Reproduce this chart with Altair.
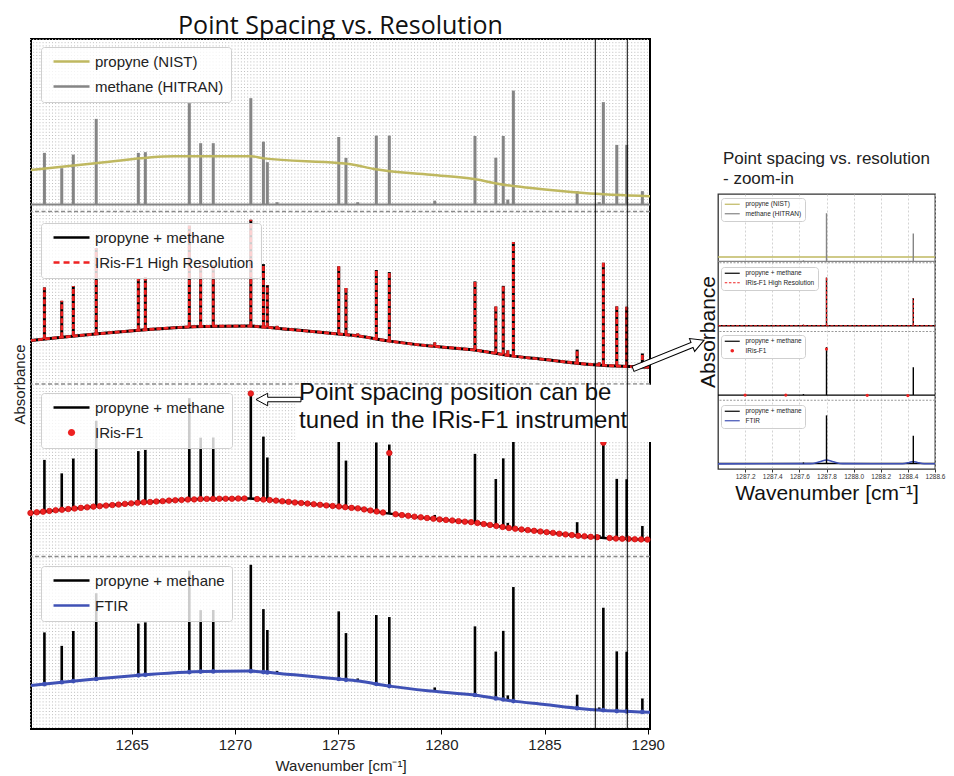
import altair as alt
import pandas as pd

# ---------------- main chart data (panel-local absorbance, 0..1 per band) ----------------
X_DOMAIN = [1260.12, 1290.11]
X_TICKS = [1265, 1270, 1275, 1280, 1285, 1290]

line_wn = [1260.77, 1261.61, 1262.17, 1263.28, 1265.32, 1265.66, 1267.79, 1268.34, 1268.95,
           1270.77, 1271.38, 1271.57, 1272.04, 1275.03, 1275.38, 1275.95, 1276.85, 1277.48,
           1279.68, 1281.63, 1282.64, 1283.00, 1283.22, 1283.49, 1286.58, 1287.65, 1287.85,
           1288.50, 1288.98, 1289.74]
line_h = [0.300, 0.211, 0.290, 0.497, 0.300, 0.304, 0.588, 0.356, 0.356,
          0.617, 0.365, 0.246, 0.014, 0.392, 0.271, 0.014, 0.400, 0.400,
          0.023, 0.398, 0.272, 0.398, 0.029, 0.661, 0.078, 0.014, 0.594,
          0.346, 0.346, 0.078]
line_base = [0.260, 0.271, 0.278, 0.290, 0.311, 0.314, 0.330, 0.333, 0.334,
             0.335, 0.330, 0.328, 0.323, 0.290, 0.285, 0.279, 0.261, 0.249,
             0.218, 0.197, 0.177, 0.171, 0.166, 0.162, 0.121, 0.111, 0.109,
             0.104, 0.102, 0.099]
METHANE_BASE = 0.04

propyne_wn = [1260.12, 1263.35, 1267.05, 1270.78, 1271.41, 1275.00, 1275.62, 1276.74,
              1279.50, 1281.58, 1283.04, 1284.35, 1286.91, 1290.11]
propyne_y = [0.241, 0.281, 0.320, 0.320, 0.308, 0.281, 0.274, 0.246,
             0.213, 0.188, 0.155, 0.136, 0.107, 0.088]

mix_wn = [1260.12, 1261.5, 1263.35, 1265.5, 1267.05, 1268.5, 1270.7, 1271.4, 1272.5, 1275.0,
          1276.0, 1277.4, 1279.5, 1281.6, 1283.4, 1285.0, 1286.8, 1288.5, 1290.11]
mix_y = [0.252, 0.270, 0.291, 0.313, 0.326, 0.334, 0.336, 0.330, 0.318, 0.290,
         0.278, 0.250, 0.220, 0.197, 0.163, 0.142, 0.118, 0.104, 0.097]

IRIS_START = 1260.095
IRIS_STEP = 0.305
iris_y = [0.252, 0.256, 0.260, 0.264, 0.268, 0.271, 0.275, 0.278, 0.282, 0.285,
          0.289, 0.292, 0.295, 0.298, 0.301, 0.305, 0.308, 0.311, 0.314, 0.316,
          0.319, 0.321, 0.324, 0.326, 0.328, 0.330, 0.331, 0.333, 0.334, 0.334,
          0.335, 0.335, 0.335, 0.336, 0.336, 0.945, 0.333, 0.330, 0.327, 0.324,
          0.320, 0.317, 0.313, 0.310, 0.307, 0.303, 0.300, 0.296, 0.293, 0.290,
          0.286, 0.282, 0.279, 0.273, 0.267, 0.261, 0.255, 0.600, 0.245, 0.240,
          0.236, 0.231, 0.227, 0.223, 0.219, 0.215, 0.212, 0.209, 0.205, 0.202,
          0.199, 0.194, 0.188, 0.183, 0.177, 0.171, 0.165, 0.161, 0.157, 0.153,
          0.149, 0.145, 0.141, 0.137, 0.132, 0.128, 0.124, 0.120, 0.117, 0.114,
          0.112, 0.660, 0.107, 0.104, 0.103, 0.102, 0.100, 0.099, 0.098]

zoom_marks_wn = [1287.46, 1289.01]

# annotation (data coordinates of the main axes)
ANN_TEXT = "Point spacing position can be\ntuned in the IRis-F1 instrument"
ANN_TEXT_POS = [1273.11, 1.945]
ANN_BOX = [1272.92, 1290.74, 1.664, 1.995]
ARROW1_POS = [1272.11, 1.910]
ARROW2_POS = [1291.01, 2.171]

# ---------------- inset data ----------------
INSET_DOMAIN = [1287.0, 1288.6]
INSET_TICKS = [1287.2, 1287.4, 1287.6, 1287.8, 1288.0, 1288.2, 1288.4, 1288.6]
inset_line_wn = [1287.63, 1287.80, 1288.44]
inset_line_h = [0.015, 0.700, 0.405]
inset_base = [0.02, 0.084, 0.075, 0.080]   # panels top -> bottom
INSET_PROPYNE = 0.085
inset_iris_wn = [1287.2, 1287.5, 1287.8, 1288.1, 1288.4]
inset_iris_y = [0.075, 0.075, 0.744, 0.072, 0.068]
inset_ftir_wn = [1287.0, 1287.68, 1287.75, 1287.80, 1287.85, 1287.92, 1288.36, 1288.41,
                 1288.44, 1288.47, 1288.52, 1288.6]
inset_ftir_y = [0.075, 0.078, 0.105, 0.130, 0.105, 0.078, 0.077, 0.095,
                0.110, 0.095, 0.077, 0.076]

# ---------------- styles ----------------
RED = "#ee2222"
BLACK = "#000000"
GRAY = "#858585"
OLIVE = "#bfb860"
BLUE = "#3f51b5"
FONT = "Liberation Sans"


def solid_path(t, s=0.0):
    return f"M {-1 + s} {-t} L {5 + s} {-t} L {5 + s} {t} L {-1 + s} {t} Z"


def dash_path(t, s=0.0):
    segs = [(-1, 0), (0.67, 1.67), (2.33, 3.33), (4, 5)]
    return " ".join(f"M {a + s} {-t} L {b + s} {-t} L {b + s} {t} L {a + s} {t} Z" for a, b in segs)


def dot_path(r, s=0.0):
    c = 2 + s
    return f"M {c - r} 0 A {r} {r} 0 1 0 {c + r} 0 A {r} {r} 0 1 0 {c - r} 0 Z"


# ---------------- main chart ----------------
xs = alt.Scale(domain=X_DOMAIN, nice=False, zero=False)
ys = alt.Scale(domain=[0, 4], nice=False, zero=False)
x_axis = alt.Axis(values=X_TICKS, format="d", title="Wavenumber [cm⁻¹]",
                  labelFont=FONT, labelFontSize=15, labelColor="#222",
                  titleFont=FONT, titleFontSize=15, titleFontWeight="normal", titleColor="#222",
                  tickSize=5, tickColor="black", domain=False, grid=False,
                  labelPadding=3, titlePadding=6)
y_axis = alt.Axis(title="Absorbance", labels=False, ticks=False, domain=False, grid=False,
                  titleFont=FONT, titleFontSize=15, titleFontWeight="normal", titleColor="#222",
                  titlePadding=4)


def MX():
    return alt.X("wn:Q", scale=xs, axis=x_axis)


def MY():
    return alt.Y("y:Q", scale=ys, axis=y_axis)


def sticks_df(offset, bases):
    return pd.DataFrame({"wn": line_wn,
                         "y": [offset + b for b in bases],
                         "y2": [offset + b + h for b, h in zip(bases, line_h)]})


def curve_df(offset, wn, vals):
    return pd.DataFrame({"wn": wn, "y": [offset + v for v in vals]})


grid_wn = []
g = IRIS_START
while g <= X_DOMAIN[1]:
    grid_wn.append(round(g, 4))
    g += IRIS_STEP / 2

layers = []
layers.append(alt.Chart(pd.DataFrame({"wn": grid_wn})).mark_rule(
    color="#bdbdbd", strokeWidth=1, strokeDash=[1, 2.2]).encode(x=MX()))
layers.append(alt.Chart(pd.DataFrame({"y": [1, 2, 3]})).mark_rule(
    color="#8a8a8a", strokeWidth=1.6, strokeDash=[4, 2.5]).encode(y=MY()))

# panel 1 : reference spectra
p1_base = pd.DataFrame({"wn": X_DOMAIN, "y": [3 + METHANE_BASE] * 2})
layers.append(alt.Chart(p1_base).mark_line(color=GRAY, strokeWidth=2).encode(x=MX(), y=MY()))
layers.append(alt.Chart(sticks_df(3, [METHANE_BASE] * len(line_wn))).mark_rule(
    color=GRAY, strokeWidth=3).encode(x=MX(), y=MY(), y2="y2:Q"))
layers.append(alt.Chart(curve_df(3, propyne_wn, propyne_y)).mark_line(
    color=OLIVE, strokeWidth=2.5, interpolate="monotone").encode(x=MX(), y=MY()))

# panel 2 : high resolution
layers.append(alt.Chart(sticks_df(2, line_base)).mark_rule(color=BLACK, strokeWidth=3).encode(
    x=MX(), y=MY(), y2="y2:Q"))
layers.append(alt.Chart(curve_df(2, mix_wn, mix_y)).mark_line(
    color=BLACK, strokeWidth=3, interpolate="monotone").encode(x=MX(), y=MY()))
layers.append(alt.Chart(sticks_df(2, line_base)).mark_rule(
    color=RED, strokeWidth=2.7, strokeDash=[5, 2]).encode(x=MX(), y=MY(), y2="y2:Q"))
layers.append(alt.Chart(curve_df(2, mix_wn, mix_y)).mark_line(
    color=RED, strokeWidth=2.7, strokeDash=[5, 2], interpolate="monotone").encode(x=MX(), y=MY()))

# panel 3 : IRis-F1 point spacing
layers.append(alt.Chart(sticks_df(1, line_base)).mark_rule(color=BLACK, strokeWidth=2.6).encode(
    x=MX(), y=MY(), y2="y2:Q"))
layers.append(alt.Chart(curve_df(1, mix_wn, mix_y)).mark_line(
    color=BLACK, strokeWidth=2.5, interpolate="monotone").encode(x=MX(), y=MY()))
iris_df = pd.DataFrame({"wn": [round(IRIS_START + IRIS_STEP * k, 4) for k in range(len(iris_y))],
                        "y": [1 + v for v in iris_y]})
layers.append(alt.Chart(iris_df).mark_point(
    filled=True, size=30, color=RED, opacity=1, stroke="#d01010", strokeWidth=0.8).encode(
    x=MX(), y=MY()))

# panel 4 : FTIR
layers.append(alt.Chart(sticks_df(0, line_base)).mark_rule(color=BLACK, strokeWidth=2.6).encode(
    x=MX(), y=MY(), y2="y2:Q"))
layers.append(alt.Chart(curve_df(0, mix_wn, mix_y)).mark_line(
    color=BLUE, strokeWidth=3, interpolate="monotone").encode(x=MX(), y=MY()))
bump = [(w, b) for w, b, h in zip(line_wn, line_base, line_h) if h >= 0.05]
layers.append(alt.Chart(pd.DataFrame({"wn": [w for w, _ in bump], "y": [b for _, b in bump]}))
              .mark_circle(size=22, color=BLUE, opacity=1).encode(x=MX(), y=MY()))

# annotation
box_df = pd.DataFrame({"wn": [ANN_BOX[0]], "wn2": [ANN_BOX[1]], "y": [ANN_BOX[2]], "y2": [ANN_BOX[3]]})
layers.append(alt.Chart(box_df).mark_rect(color="white", opacity=1).encode(
    x=MX(), x2="wn2:Q", y=MY(), y2="y2:Q"))
layers.append(alt.Chart(pd.DataFrame({"wn": zoom_marks_wn})).mark_rule(
    color="black", strokeWidth=1).encode(x=MX()))
layers.append(alt.Chart(pd.DataFrame({"wn": [ANN_TEXT_POS[0]], "y": [ANN_TEXT_POS[1]], "t": [ANN_TEXT]}))
              .mark_text(align="left", baseline="middle", lineBreak="\n", font=FONT, fontSize=24,
                         lineHeight=28, color="#111").encode(x=MX(), y=MY(), text="t:N"))
ARROW1 = "M 1 0 L 0.48 -0.28 L 0.48 -0.1 L -1 -0.1 L -1 0.1 L 0.48 0.1 L 0.48 0.28 Z"
ARROW2 = "M 1 0 L 0.66 -0.18 L 0.66 -0.07 L -1 -0.07 L -1 0.07 L 0.66 0.07 L 0.66 0.18 Z"
layers.append(alt.Chart(pd.DataFrame({"wn": [ARROW1_POS[0]], "y": [ARROW1_POS[1]]})).mark_point(
    shape=ARROW1, size=2025, angle=180, filled=True, fill="white", stroke="black",
    strokeWidth=1, opacity=1).encode(x=MX(), y=MY()))
layers.append(alt.Chart(pd.DataFrame({"wn": [ARROW2_POS[0]], "y": [ARROW2_POS[1]]})).mark_point(
    shape=ARROW2, size=5883, angle=338, filled=True, fill="white", stroke="black",
    strokeWidth=1, opacity=1).encode(x=MX(), y=MY()))


def legend_layer(names, colors, shapes, lx, ly, st, xf, yf, off):
    leg = alt.Legend(title=None, orient="none", legendX=lx, legendY=ly,
                     fillColor="rgba(255,255,255,0.8)", strokeColor="#cfcfcf", cornerRadius=3,
                     padding=st["padding"], rowPadding=st["rowPadding"], labelOffset=st["labelOffset"],
                     labelFont=FONT, labelFontSize=st["fontSize"], labelColor="#222",
                     symbolSize=st["symbolSize"], symbolStrokeWidth=0, symbolOpacity=1, labelLimit=400)
    df = pd.DataFrame({"s": names, "wn": [off[0]] * len(names), "y": [off[1]] * len(names)})
    return alt.Chart(df).mark_point(filled=True, opacity=1, clip=True).encode(
        x=xf(), y=yf(),
        color=alt.Color("s:N", scale=alt.Scale(domain=names, range=colors), legend=leg),
        shape=alt.Shape("s:N", scale=alt.Scale(domain=names, range=shapes), legend=leg))


MST = dict(padding=7, rowPadding=9, labelOffset=32, fontSize=15, symbolSize=144)
t = 0.21
sh = 0.67
MOFF = (1200, -10)
layers.append(legend_layer(["propyne (NIST)", "methane (HITRAN)"], [OLIVE, GRAY],
                           [solid_path(t, sh), solid_path(t, sh)], 10, 8, MST, MX, MY, MOFF))
layers.append(legend_layer(["propyne + methane", "IRis-F1 High Resolution"], [BLACK, RED],
                           [solid_path(t, sh), dash_path(t, sh)], 10, 184, MST, MX, MY, MOFF))
layers.append(legend_layer(["propyne + methane ", "IRis-F1"], [BLACK, RED],
                           [solid_path(t, sh), dot_path(0.6, sh)], 10, 354, MST, MX, MY, MOFF))
layers.append(legend_layer(["propyne + methane  ", "FTIR"], [BLACK, BLUE],
                           [solid_path(t, sh), solid_path(t, sh)], 10, 527, MST, MX, MY, MOFF))

main = alt.layer(*layers).resolve_scale(color="independent", shape="independent").properties(
    width=619, height=690,
    title=alt.TitleParams("Point Spacing vs. Resolution", font="Open Sans", fontSize=25,
                          fontWeight="normal", color="#111", anchor="middle", frame="group", offset=0),
    view=alt.ViewBackground(stroke="black", strokeWidth=2))

# ---------------- inset chart ----------------
ixs = alt.Scale(domain=INSET_DOMAIN, nice=False, zero=False)
iys = alt.Scale(domain=[0, 4], nice=False, zero=False)
ix_axis = alt.Axis(values=INSET_TICKS, format=".1f", labelFont=FONT, labelFontSize=6.5, labelColor="#333",
                   labelOverlap=False, labelFlush=False, tickSize=3, tickColor="#333", grid=True,
                   gridColor="#c8c8c8", gridDash=[2, 2], gridWidth=0.8, domain=False,
                   title="Wavenumber [cm⁻¹]", titleFont=FONT, titleFontSize=21,
                   titleFontWeight="normal", titleColor="#111", titlePadding=3, labelPadding=1)
iy_axis = alt.Axis(title="Absorbance", labels=False, ticks=False, domain=False, grid=False,
                   titleFont=FONT, titleFontSize=21, titleFontWeight="normal", titleColor="#111",
                   titlePadding=0)


def IX():
    return alt.X("wn:Q", scale=ixs, axis=ix_axis)


def IY():
    return alt.Y("y:Q", scale=iys, axis=iy_axis)


def isticks(offset, base):
    return pd.DataFrame({"wn": inset_line_wn, "y": [offset + base] * len(inset_line_wn),
                         "y2": [offset + base + h for h in inset_line_h]})


def iflat(offset, v):
    return pd.DataFrame({"wn": INSET_DOMAIN, "y": [offset + v] * 2})


il = []
il.append(alt.Chart(pd.DataFrame({"y": [1, 2, 3]})).mark_rule(
    color="#999999", strokeWidth=1, strokeDash=[2, 1.5]).encode(y=IY()))
# panel 1
il.append(alt.Chart(iflat(3, inset_base[0])).mark_line(color=GRAY, strokeWidth=1.2).encode(x=IX(), y=IY()))
il.append(alt.Chart(iflat(3, INSET_PROPYNE)).mark_line(color=OLIVE, strokeWidth=1.5).encode(x=IX(), y=IY()))
il.append(alt.Chart(isticks(3, inset_base[0])).mark_rule(color=GRAY, strokeWidth=1.4).encode(
    x=IX(), y=IY(), y2="y2:Q"))
# panel 2
il.append(alt.Chart(iflat(2, inset_base[1])).mark_line(color=BLACK, strokeWidth=1.3).encode(x=IX(), y=IY()))
il.append(alt.Chart(isticks(2, inset_base[1])).mark_rule(color=BLACK, strokeWidth=1.4).encode(
    x=IX(), y=IY(), y2="y2:Q"))
il.append(alt.Chart(iflat(2, inset_base[1])).mark_line(color=RED, strokeWidth=1.2, strokeDash=[3, 1.5]).encode(
    x=IX(), y=IY()))
il.append(alt.Chart(isticks(2, inset_base[1])).mark_rule(color=RED, strokeWidth=1.2, strokeDash=[3, 1.5]).encode(
    x=IX(), y=IY(), y2="y2:Q"))
# panel 3
il.append(alt.Chart(iflat(1, inset_base[2])).mark_line(color=BLACK, strokeWidth=1.3).encode(x=IX(), y=IY()))
il.append(alt.Chart(isticks(1, inset_base[2])).mark_rule(color=BLACK, strokeWidth=1.4).encode(
    x=IX(), y=IY(), y2="y2:Q"))
il.append(alt.Chart(pd.DataFrame({"wn": inset_iris_wn, "y": [1 + v for v in inset_iris_y]})).mark_circle(
    size=10, color=RED, opacity=1).encode(x=IX(), y=IY()))
# panel 4
il.append(alt.Chart(iflat(0, inset_base[3])).mark_line(color=BLACK, strokeWidth=1.3).encode(x=IX(), y=IY()))
il.append(alt.Chart(pd.DataFrame({"wn": inset_ftir_wn, "y": inset_ftir_y})).mark_line(
    color=BLUE, strokeWidth=1.6, interpolate="monotone").encode(x=IX(), y=IY()))
il.append(alt.Chart(isticks(0, inset_base[3])).mark_rule(color=BLACK, strokeWidth=1.4).encode(
    x=IX(), y=IY(), y2="y2:Q"))

IST = dict(padding=3, rowPadding=2.5, labelOffset=15, fontSize=6.5, symbolSize=25)
ti = 0.24
IOFF = (1280, -10)
il.append(legend_layer(["propyne (NIST)", "methane (HITRAN)"], [OLIVE, GRAY],
                       [solid_path(ti), solid_path(ti)], 3, 4, IST, IX, IY, IOFF))
il.append(legend_layer(["propyne + methane", "IRis-F1 High Resolution"], [BLACK, RED],
                       [solid_path(ti), dash_path(ti)], 3, 73, IST, IX, IY, IOFF))
il.append(legend_layer(["propyne + methane ", "IRis-F1"], [BLACK, RED],
                       [solid_path(ti), dot_path(0.7)], 3, 141, IST, IX, IY, IOFF))
il.append(legend_layer(["propyne + methane  ", "FTIR"], [BLACK, BLUE],
                       [solid_path(ti), solid_path(ti)], 3, 211, IST, IX, IY, IOFF))

inset = alt.layer(*il).resolve_scale(color="independent", shape="independent").properties(
    width=217, height=275,
    title=alt.TitleParams(["Point spacing vs. resolution", "- zoom-in"], font=FONT, fontSize=17,
                          fontWeight="normal", color="#222", anchor="start", frame="group",
                          offset=6, dx=5, lineHeight=20),
    view=alt.ViewBackground(stroke="#333333", strokeWidth=1.3))

spacer = alt.Chart(pd.DataFrame({"s": [0]})).mark_point(opacity=0).properties(
    width=217, height=155, view=alt.ViewBackground(stroke="transparent"))

right = alt.vconcat(spacer, inset, spacing=0).properties(bounds="flush").resolve_scale(
    color="independent", shape="independent")

chart = alt.hconcat(main, right, spacing=68).properties(
    bounds="flush", padding={"left": 3, "top": 4, "right": 0, "bottom": 5}).resolve_scale(
    color="independent", shape="independent")

chart.save("out.html", embed_options={"renderer": "svg", "actions": False})
